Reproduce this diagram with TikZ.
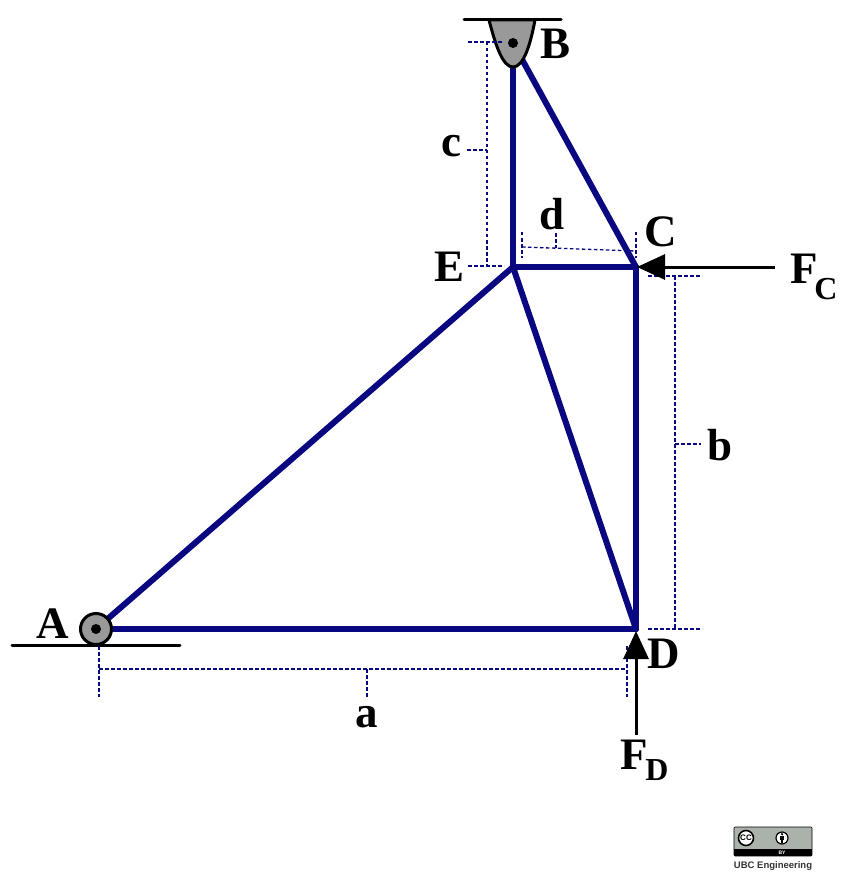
\documentclass[tikz,border=0pt]{standalone}
\usepackage{fontspec}
\setmainfont{Liberation Serif}
\setsansfont{Liberation Sans}
\usepackage{tikz}
\usetikzlibrary{arrows.meta}
\definecolor{trussblue}{rgb}{0.04,0.03,0.5}
\definecolor{pingray}{rgb}{0.6,0.6,0.6}
\definecolor{badgegray}{rgb}{0.67,0.70,0.67}
\tikzset{
  member/.style={line width=6pt,trussblue,line cap=round},
  dim/.style={line width=1.3pt,trussblue,dash pattern=on 3.5pt off 2.5pt},
  ground/.style={line width=3pt,black,line cap=round},
  load/.style={-{Triangle[length=28pt,width=25pt]},line width=3pt,black,shorten >=-1pt},
  letter/.style={font=\fontsize{45}{45}\selectfont\bfseries,inner sep=0pt},
  pindot/.style={circle,fill=black,minimum size=10pt,inner sep=0pt}
}
\begin{document}
\begin{tikzpicture}[x=1pt,y=-1pt]
\useasboundingbox (0,0) rectangle (849,885);
% joints
\coordinate (ja) at (96,629);
\coordinate (jb) at (513,43);
\coordinate (jc) at (636,267);
\coordinate (jd) at (636,629);
\coordinate (je) at (513,267);
% members
\draw [member] (ja) -- (jd);
\draw [member] (ja) -- (je);
\draw [member] (jb) -- (je);
\draw [member] (jb) -- (jc);
\draw [member] (je) -- (jc);
\draw [member] (je) -- (jd);
\draw [member] (jc) -- (jd);
% supports
\coordinate (ga1) at (12,645);
\coordinate (ga2) at (180,645);
\coordinate (gb1) at (464,20);
\coordinate (gb2) at (561,20);
\draw [ground] (ga1) -- (ga2);
\draw [ground] (gb1) -- (gb2);
\node[draw=black, line width=3pt, fill=pingray, circle, minimum size=31pt, inner sep=0pt] (pina) at (ja) {};
\node[pindot] (dota) at (ja) {};
\draw [line width=3pt,fill=pingray] (489,20) .. controls (496,47) and (503,67) .. (513,67) .. controls (523,67) and (530,47) .. (535,20) -- cycle;
\node[pindot] (dotb) at (jb) {};
% dimension a
\coordinate (a1) at (99,646);
\coordinate (a2) at (99,697);
\coordinate (a3) at (99,669);
\coordinate (a4) at (627,669);
\coordinate (a5) at (627,646);
\coordinate (a6) at (627,697);
\coordinate (a7) at (367,669);
\coordinate (a8) at (367,697);
\draw [dim] (a1) -- (a2);
\draw [dim] (a3) -- (a4);
\draw [dim] (a5) -- (a6);
\draw [dim] (a7) -- (a8);
% dimension b
\coordinate (b1) at (648,276);
\coordinate (b2) at (702,276);
\coordinate (b3) at (648,629);
\coordinate (b4) at (702,629);
\coordinate (b5) at (675,276);
\coordinate (b6) at (675,629);
\coordinate (b7) at (675,444);
\coordinate (b8) at (701,444);
\draw [dim] (b1) -- (b2);
\draw [dim] (b3) -- (b4);
\draw [dim] (b5) -- (b6);
\draw [dim] (b7) -- (b8);
% dimension c
\coordinate (c1) at (468,42);
\coordinate (c2) at (503,42);
\coordinate (c3) at (468,266);
\coordinate (c4) at (504,266);
\coordinate (c5) at (487,42);
\coordinate (c6) at (487,266);
\coordinate (c7) at (467,150);
\coordinate (c8) at (487,150);
\draw [dim] (c1) -- (c2);
\draw [dim] (c3) -- (c4);
\draw [dim] (c5) -- (c6);
\draw [dim] (c7) -- (c8);
% dimension d
\coordinate (d1) at (522,232);
\coordinate (d2) at (522,258);
\coordinate (d3) at (522,247);
\coordinate (d4) at (636,251);
\coordinate (d5) at (636,232);
\coordinate (d6) at (636,258);
\coordinate (d7) at (556,233);
\coordinate (d8) at (556,248);
\draw [dim] (d1) -- (d2);
\draw [dim] (d3) -- (d4);
\draw [dim] (d5) -- (d6);
\draw [dim] (d7) -- (d8);
% loads
\coordinate (fc) at (775,267);
\coordinate (fd) at (636,735);
\coordinate (tipc) at (638,267);
\coordinate (tipd) at (636,632);
\draw [load] (fc) -- (tipc);
\draw [load] (fd) -- (tipd);
% labels
\node[letter] (la) at (53,624) {A};
\node[letter] (lb) at (555,44) {B};
\node[letter] (lc) at (661,232) {C};
\node[letter] (ld) at (664,654) {D};
\node[letter] (le) at (449,267) {E};
\node[letter] (ldima) at (367,717) {a};
\node[letter] (ldimb) at (720,445) {b};
\node[letter] (ldimc) at (451,146) {c};
\node[letter] (ldimd) at (552,214) {d};
\node[letter] (lfc) at (804,269) {F};
\node[letter,font=\fontsize{32}{32}\selectfont\bfseries] (lfcs) at (826,289) {C};
\node[letter] (lfd) at (634,755) {F};
\node[letter,font=\fontsize{32}{32}\selectfont\bfseries] (lfds) at (657,770) {D};
% licence badge
\fill[badgegray,rounded corners=1pt] (734,827) rectangle (812,856);
\fill[black] (734,849) rectangle (812,856);
\draw[black,line width=.6pt,rounded corners=1pt] (734,827) rectangle (812,856);
\node[circle,draw=black,line width=1.6pt,fill=white,minimum size=15pt,inner sep=0pt,font=\sffamily\bfseries\fontsize{8}{8}\selectfont] (badgecc) at (746,838) {CC};
\node[circle,draw=black,line width=1.2pt,fill=white,minimum size=12pt,inner sep=0pt] (badgeby) at (782,838) {};
\fill[black] (782,834.2) circle (1.3pt);
\fill[black] (780.2,836.3) rectangle (783.8,839.8);
\fill[black] (781,839.8) rectangle (783,843);
\node[text=white,font=\sffamily\bfseries\fontsize{5}{5}\selectfont,inner sep=0pt] (badgebytext) at (782,852.6) {BY};
\node[font=\sffamily\bfseries\fontsize{9.5}{9.5}\selectfont,text=black!80,inner sep=0pt] (badgeubc) at (773,866) {UBC Engineering};
\end{tikzpicture}
\end{document}
